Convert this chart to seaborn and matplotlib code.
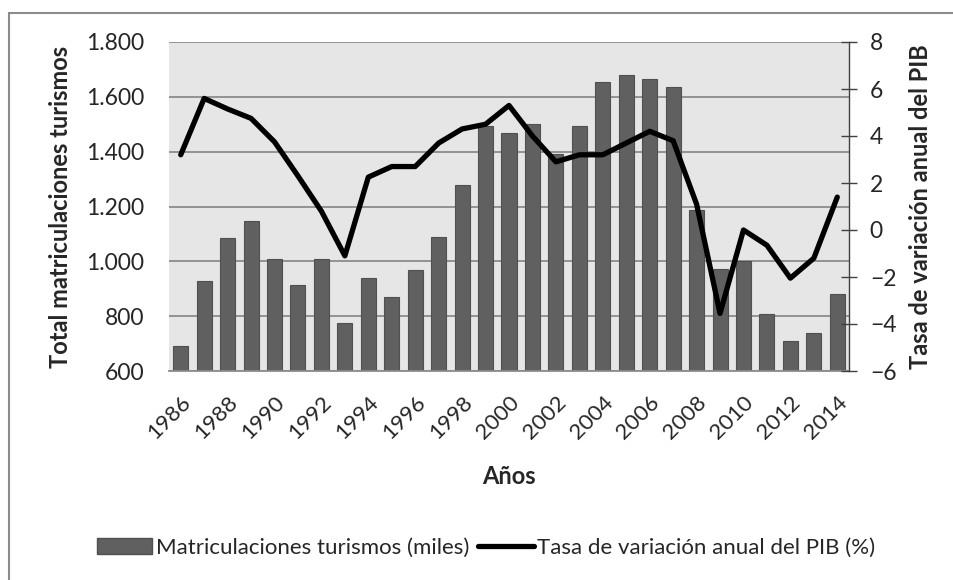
import numpy as np
import matplotlib
matplotlib.use("Agg")
import matplotlib.pyplot as plt
import matplotlib.patches as mpatches
from matplotlib.ticker import FuncFormatter
import seaborn as sns

# datos
years = [str(y) for y in range(1986, 2015)]
matriculaciones = [690, 928, 1085, 1148, 1007, 913, 1008, 775, 938, 869, 968, 1090,
                   1278, 1495, 1467, 1500, 1391, 1494, 1655, 1678, 1664, 1636,
                   1186, 971, 1001, 808, 710, 739, 880]
pib = [3.2, 5.6, 5.15, 4.75, 3.75, 2.3, 0.8, -1.1, 2.25, 2.7, 2.7, 3.7,
       4.3, 4.5, 5.3, 4.0, 2.9, 3.2, 3.2, 3.7, 4.2, 3.8,
       1.1, -3.55, 0.0, -0.65, -2.05, -1.2, 1.4]

label_bar = 'Matriculaciones turismos (miles)'
label_line = 'Tasa de variación anual del PIB (%)'

sns.set_style('white')
plt.rcParams['font.family'] = ['Lato', 'DejaVu Sans']

fig = plt.figure(figsize=(9.54, 5.8), dpi=100)
ax = fig.add_axes([169 / 954, 1 - 371 / 580, 680 / 954, 329 / 580])

sns.barplot(x=years, y=matriculaciones, color='#606060', saturation=1,
            edgecolor='#505050', linewidth=0.8, width=0.64, ax=ax)
ax.set_facecolor('#e6e6e6')
ax.set_ylim(600, 1800)
ax.set_yticks(range(600, 1801, 200))
ax.yaxis.set_major_formatter(FuncFormatter(lambda v, p: f'{v:,.0f}'.replace(',', '.')))
ax.grid(axis='y', color='#8c8c8c', lw=1.3)
ax.set_axisbelow(True)
for s in ['left', 'top', 'right']:
    ax.spines[s].set_visible(False)
ax.spines['bottom'].set_color('#8c8c8c')
ax.spines['bottom'].set_linewidth(1.3)
ax.set_xticks(range(0, len(years), 2))
ax.set_xticklabels(years[::2], rotation=45, ha='right', va='top',
                   rotation_mode='anchor')
ax.tick_params(axis='x', length=0, pad=15, labelsize=16)
ax.tick_params(axis='y', length=0, pad=18, labelsize=16.5)
ax.set_xlabel('Años', fontsize=17, fontweight='bold', labelpad=16)
ax.set_ylabel('Total matriculaciones turismos', fontsize=17, fontweight='bold', labelpad=10)

ax2 = ax.twinx()
sns.lineplot(x=np.arange(len(years)), y=pib, color='black', lw=3.8, ax=ax2)
ax2.set_ylim(-6, 8)
ax2.set_yticks(range(-6, 9, 2))
for s in ['left', 'top', 'bottom']:
    ax2.spines[s].set_visible(False)
ax2.spines['right'].set_color('#404040')
ax2.spines['right'].set_linewidth(1)
ax2.tick_params(axis='y', direction='inout', length=12, width=1, color='#404040',
                pad=9, labelsize=16.5)
ax2.set_ylabel('Tasa de variación anual del PIB', fontsize=17, fontweight='bold',
               labelpad=9)
ax.set_xlim(-0.5, len(years) - 0.5)

# leyenda
h1 = mpatches.Patch(facecolor='#606060', edgecolor='#505050', label=label_bar)
h2 = plt.Line2D([], [], color='black', lw=3.8, label=label_line)
fig.legend(handles=[h1, h2], loc='center', bbox_to_anchor=(486 / 954, 1 - 548 / 580),
           ncol=2, frameon=False, fontsize=16, handlelength=2.5, handletextpad=0.15,
           columnspacing=0.4)

# marco exterior
fig.add_artist(mpatches.Rectangle((9.5 / 954, -0.1), 1.2, 1 - 12.5 / 580 + 0.1,
                                  transform=fig.transFigure, fill=False,
                                  edgecolor='#8c8c8c', lw=1.5))

fig.savefig('out.png', dpi=100)
